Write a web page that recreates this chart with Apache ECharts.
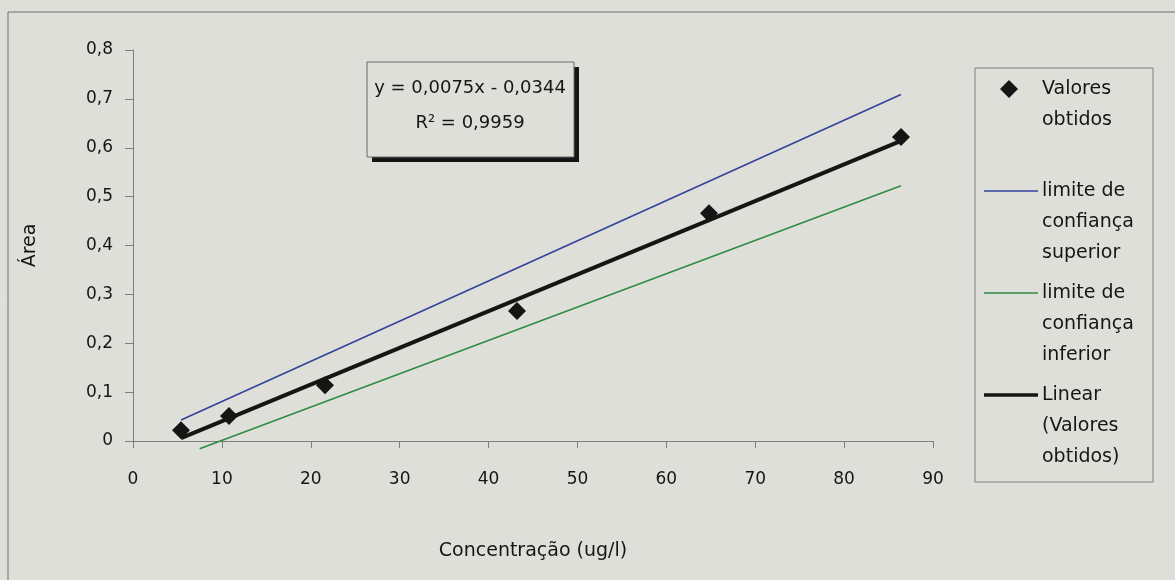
<!DOCTYPE html>
<html>
<head>
<meta charset="utf-8">
<script src="https://cdn.jsdelivr.net/npm/echarts@6/dist/echarts.min.js"></script>
<style>
html, body { margin: 0; padding: 0; background: #dfdfd9; }
#chart { width: 1175px; height: 580px; }
</style>
</head>
<body>
<div id="chart"></div>
<script>
// dados
var concentracao = [5.4, 10.8, 21.6, 43.2, 64.8, 86.4];
var area = [0.022, 0.051, 0.114, 0.266, 0.466, 0.622];
var limiteSuperior = [[5.4, 0.043], [86.4, 0.709]];
var limiteInferior = [[7.5, -0.016], [86.4, 0.522]];
var linear = [[5.4, 0.006], [86.4, 0.614]];
var equacao = ['y = 0,0075x - 0,0344', 'R² = 0,9959'];

var pontos = [];
for (var i = 0; i < concentracao.length; i++) {
	pontos.push([concentracao[i], area[i]]);
}

var fonte = 'DejaVu Sans';
var cinza = '#7e7e7e';
var tinta = '#151515';

var myChart = echarts.init(document.getElementById('chart'));

// legenda desenhada à mão (ícone alinhado com a primeira linha)
var legenda = [
	{ tipo: 'diamond', cor: tinta, y: 89, texto: 'Valores\nobtidos' },
	{ tipo: 'line', cor: '#34429a', largura: 1.6, y: 191, texto: 'limite de\nconfiança\nsuperior' },
	{ tipo: 'line', cor: '#2f8a46', largura: 1.6, y: 293, texto: 'limite de\nconfiança\ninferior' },
	{ tipo: 'line', cor: tinta, largura: 3.5, y: 395, texto: 'Linear\n(Valores\nobtidos)' }
];

var graficos = [
	{ type: 'rect', shape: { x: 8, y: 12, width: 1300, height: 700 }, style: { fill: 'none', stroke: '#6e6e6e', lineWidth: 1 }, silent: true },
	// caixa da equação
	{ type: 'rect', shape: { x: 372, y: 67, width: 207, height: 95 }, style: { fill: tinta }, z: 10 },
	{ type: 'rect', shape: { x: 367, y: 62, width: 207, height: 95 }, style: { fill: '#dfdfd9', stroke: '#6a6a6a', lineWidth: 1 }, z: 11 },
	{ type: 'text', x: 470, y: 88, style: { text: equacao[0], font: '18px ' + fonte, fill: tinta, align: 'center', verticalAlign: 'middle' }, z: 12 },
	{ type: 'text', x: 470, y: 123, style: { text: equacao[1], font: '18px ' + fonte, fill: tinta, align: 'center', verticalAlign: 'middle' }, z: 12 },
	// caixa da legenda
	{ type: 'rect', shape: { x: 975, y: 68, width: 178, height: 414 }, style: { fill: 'none', stroke: cinza, lineWidth: 1 }, z: 10 }
];

legenda.forEach(function (item) {
	if (item.tipo === 'diamond') {
		graficos.push({ type: 'polygon', shape: { points: [[1009, item.y - 9], [1018, item.y], [1009, item.y + 9], [1000, item.y]] }, style: { fill: item.cor }, z: 11 });
	} else {
		graficos.push({ type: 'line', shape: { x1: 984, y1: item.y, x2: 1038, y2: item.y }, style: { stroke: item.cor, lineWidth: item.largura }, z: 11 });
	}
	graficos.push({ type: 'text', x: 1042, y: item.y - 15.5, style: { text: item.texto, font: '19px ' + fonte, lineHeight: 31, fill: tinta, verticalAlign: 'top' }, z: 11 });
});

option = {
	backgroundColor: '#dfdfd9',
	animation: false,
	textStyle: { fontFamily: fonte },
	grid: { left: 133, top: 50, width: 800, height: 391 },
	xAxis: {
		type: 'value',
		min: 0,
		max: 90,
		interval: 10,
		name: 'Concentração (ug/l)',
		nameLocation: 'middle',
		nameGap: 101,
		nameTextStyle: { fontSize: 19, color: tinta, fontFamily: fonte },
		axisLine: { onZero: false, lineStyle: { color: cinza } },
		axisTick: { length: 7, lineStyle: { color: cinza } },
		axisLabel: { margin: 30, fontSize: 17, color: tinta, fontFamily: fonte },
		splitLine: { show: false }
	},
	yAxis: {
		type: 'value',
		min: 0,
		max: 0.8,
		interval: 0.1,
		name: 'Área',
		nameLocation: 'middle',
		nameGap: 93,
		nameRotate: 90,
		nameTextStyle: { fontSize: 19, color: tinta, fontFamily: fonte },
		axisLine: { show: true, lineStyle: { color: cinza } },
		axisTick: { show: true, length: 8, lineStyle: { color: cinza } },
		axisLabel: {
			margin: 20,
			fontSize: 17,
			color: tinta,
			fontFamily: fonte,
			formatter: function (v) { return String(Math.round(v * 10) / 10).replace('.', ','); }
		},
		splitLine: { show: false }
	},
	series: [
		{
			name: 'limite de confiança superior',
			type: 'line',
			data: limiteSuperior,
			symbol: 'none',
			lineStyle: { color: '#34429a', width: 1.6 },
			z: 2
		},
		{
			name: 'limite de confiança inferior',
			type: 'line',
			data: limiteInferior,
			symbol: 'none',
			clip: false,
			lineStyle: { color: '#2f8a46', width: 1.6 },
			z: 2
		},
		{
			name: 'Linear (Valores obtidos)',
			type: 'line',
			data: linear,
			symbol: 'none',
			lineStyle: { color: tinta, width: 4 },
			z: 3
		},
		{
			name: 'Valores obtidos',
			type: 'scatter',
			data: pontos,
			symbol: 'diamond',
			symbolSize: 18,
			itemStyle: { color: tinta, opacity: 1 },
			z: 4
		}
	],
	graphic: graficos
};
myChart.setOption(option);
</script>
</body>
</html>
